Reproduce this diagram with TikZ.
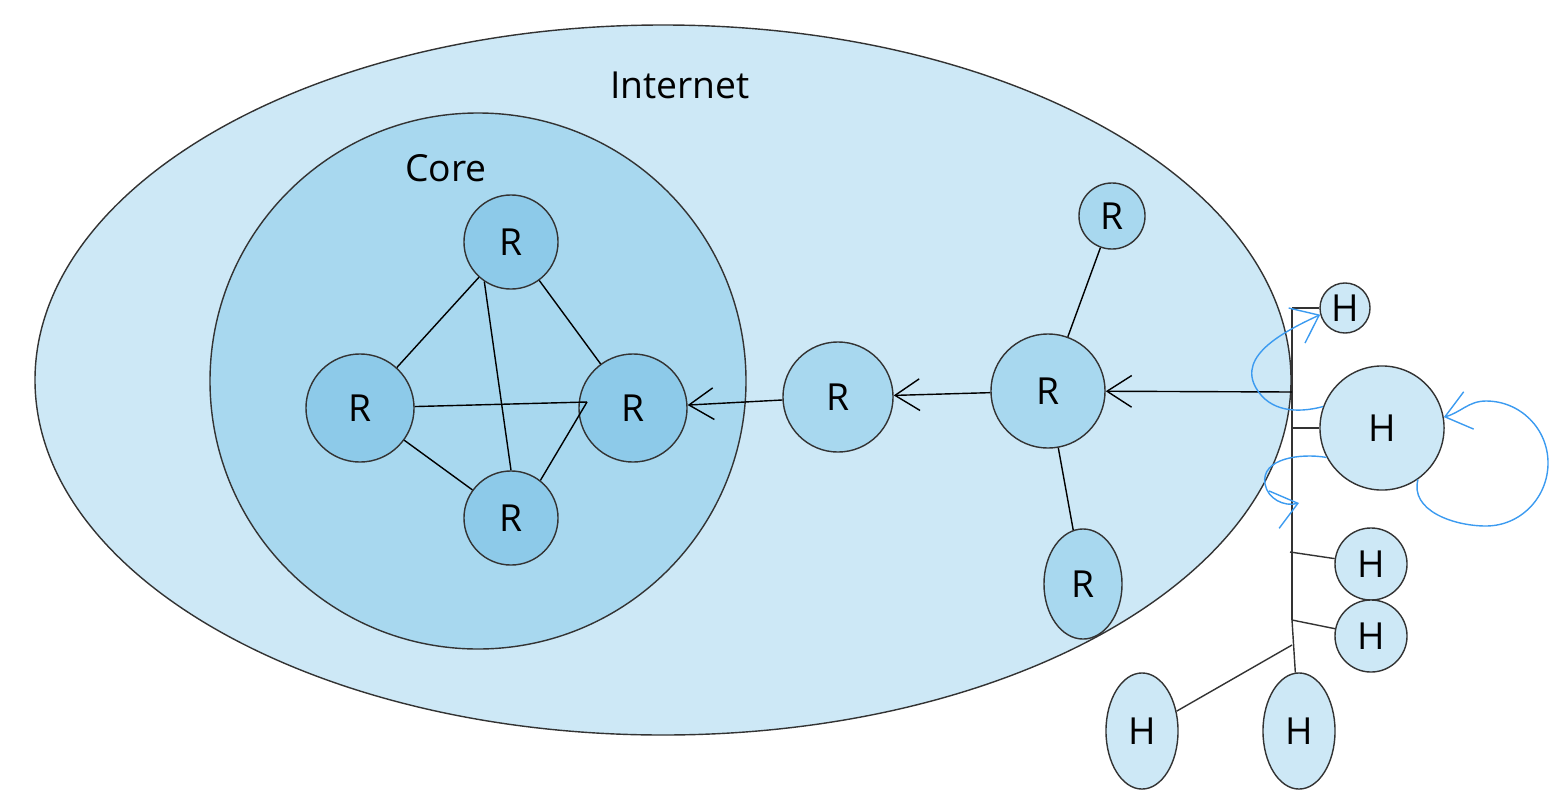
\documentclass[tikz,border=0pt]{standalone}
\usepackage{fontspec}
\setmainfont{Open Sans}
\usetikzlibrary{arrows.meta,shapes.geometric}
\definecolor{netblue}{HTML}{CDE8F6}
\definecolor{coreblue}{HTML}{A8D8EF}
\definecolor{rtblue}{HTML}{8DCAE9}
\definecolor{loopblue}{HTML}{3C9BF0}
\tikzset{
  lbl/.style={font=\fontsize{10.6}{13}\selectfont},
  rt/.style={draw=black!80, circle, inner sep=0pt, lbl},
  hst/.style={draw=black!80, fill=netblue, inner sep=0pt, lbl},
  barb/.style={-{Straight Barb[length=7pt,width=9pt]}},
  flow/.style={loopblue, -{Straight Barb[length=7pt,width=11pt]}},
}

\begin{document}
\begin{tikzpicture}[x=0.01cm, y=-0.01cm]
\useasboundingbox (0,0) rectangle (1567,803);

% regions
\draw[black!80, fill=netblue] (663,380) ellipse [x radius=628, y radius=355];
\draw[black!80, fill=coreblue] (478,381) circle [radius=268];
\node[lbl] (inet) at (680,85) {Internet};
\node[lbl] (corelbl) at (446,168) {Core};

% core routers
\node[rt, fill=rtblue, minimum size=0.94cm] (c1) at (511,242) {R};
\node[rt, fill=rtblue, minimum size=1.08cm] (c2) at (360,408) {R};
\node[rt, fill=rtblue, minimum size=1.08cm] (c3) at (633,408) {R};
\node[rt, fill=rtblue, minimum size=0.94cm] (c4) at (511,518) {R};
\coordinate (c3in) at (587,402);

\path[draw] (c1) -- (c2);
\path[draw] (c1) -- (c3);
\path[draw] (c1.236) -- (c4.north);
\path[draw] (c2) -- (c3in);
\path[draw] (c2) -- (c4);
\path[draw] (c4.52) -- (c3in);

% edge routers
\node[rt, fill=coreblue, minimum size=1.10cm] (r1) at (838,397) {R};
\node[rt, fill=coreblue, minimum size=1.14cm] (r2) at (1048,391) {R};
\node[rt, fill=coreblue, minimum size=0.66cm] (r3) at (1112,216) {R};
\node[rt, ellipse, fill=coreblue, minimum width=0.78cm, minimum height=1.10cm] (r4) at (1083,584) {R};

\path[draw, barb] (r1) -- (c3);
\path[draw, barb] (r2) -- (r1);
\path[draw] (r3) -- (r2);
\path[draw] (r2) -- (r4);

% hosts
\coordinate (b1) at (1292,308);
\coordinate (b2) at (1292,392);
\coordinate (b3) at (1292,428);
\coordinate (b4) at (1290,552);
\coordinate (b5) at (1292,620);
\coordinate (b6) at (1292,645);

\node[hst, circle, minimum size=0.50cm] (h1) at (1345,308) {H};
\node[hst, circle, minimum size=1.24cm] (h2) at (1382,428) {H};
\node[hst, circle, minimum size=0.72cm] (h3) at (1371,564) {H};
\node[hst, circle, minimum size=0.72cm] (h4) at (1371,636) {H};
\node[hst, ellipse, minimum width=0.72cm, minimum height=1.16cm] (h5) at (1142,731) {H};
\node[hst, ellipse, minimum width=0.72cm, minimum height=1.16cm] (h6) at (1299,731) {H};

\path[draw, black!80] (b1) -- (b5);
\path[draw, barb] (b2) -- (r2);
\path[draw, black!80] (b1) -- (h1);
\path[draw, black!80] (b3) -- (h2);
\path[draw, black!80] (b4) -- (h3);
\path[draw, black!80] (b5) -- (h4);
\path[draw, black!80] (b5) -- (h6);
\path[draw, black!80] (b6) -- (h5);

% traffic
\draw[flow] (h2.160) to[out=195, in=-60] (1256,388) to[out=120, in=205] (h1.195);
\draw[flow] (h2.208) to[out=170, in=100] (1265,484) to[out=-80, in=195] (1299,503);
\draw[flow] (h2.-55) to[out=-105, in=180] (1486,526) to[out=0, in=-90] (1548,463)
  to[out=90, in=0] (1486,401) to[out=180, in=15] (h2.10);
\end{tikzpicture}
\end{document}
